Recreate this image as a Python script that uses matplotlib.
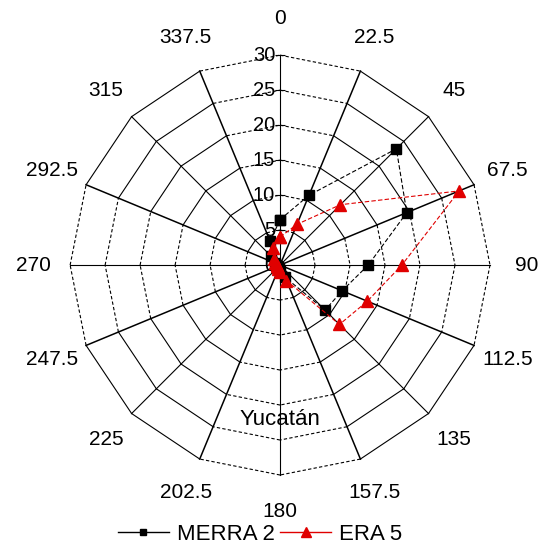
import numpy as np
import matplotlib.pyplot as plt
from matplotlib.lines import Line2D

plt.rcParams['font.family'] = ['Liberation Sans', 'DejaVu Sans']

# Wind direction sectors (degrees) and frequencies (%)
directions = [0, 22.5, 45, 67.5, 90, 112.5, 135, 157.5,
              180, 202.5, 225, 247.5, 270, 292.5, 315, 337.5]
merra2 = [6.5, 10.8, 23.5, 19.6, 12.6, 9.6, 9.1, 1.9,
          0.8, 0.5, 0.4, 0.5, 0.6, 0.8, 1.8, 3.7]
era5 = [4.0, 6.3, 12.2, 27.7, 17.4, 13.5, 12.0, 2.4,
        1.0, 0.6, 0.4, 0.4, 0.5, 0.8, 1.3, 2.6]
r_ticks = [0, 5, 10, 15, 20, 25, 30]
site = 'Yucatán'

theta = np.deg2rad(directions)
n = len(theta)

fig = plt.figure(figsize=(5.47, 5.46), dpi=100)
ax = fig.add_axes([0.128, 0.130, 0.768, 0.769], projection='polar')
ax.set_theta_zero_location('N')
ax.set_theta_direction(-1)
ax.set_ylim(0, r_ticks[-1])
ax.grid(False)
ax.spines['polar'].set_visible(False)
ax.set_xticks([])
ax.set_yticks([])

# polygonal rings: segments next to N/E/S/W are dashed
for r in r_ticks[1:]:
    for i in range(n):
        j = (i + 1) % n
        cardinal = directions[i] % 90 == 0 or directions[j] % 90 == 0
        ax.plot([theta[i], theta[j]], [r, r], color='k',
                lw=0.8, ls=(0, (3, 2)) if cardinal else '-',
                clip_on=False, zorder=1)

# spokes
for t, d in zip(theta, directions):
    ax.plot([t, t], [0, r_ticks[-1]], color='k',
            lw=1.1 if d % 45 else 0.8, clip_on=False, zorder=1)

# radial scale along the north spoke
for r in r_ticks:
    ax.plot([0], [r], marker='_', ms=7, color='k', mew=0.8,
            clip_on=False, zorder=2)
    ax.annotate(str(r), xy=(0, r), xytext=(-3.5, 0), textcoords='offset points',
                ha='right', va='center', fontsize=14.5, zorder=2)

# direction labels
for t, d in zip(theta, directions):
    ax.text(t, 35.2, f'{d:g}', ha='center', va='center', fontsize=15)

ax.text(np.pi, 22, site, ha='center', va='center', fontsize=16)

tc = np.append(theta, theta[0])
ax.plot(tc, merra2 + merra2[:1], color='k', lw=0.8, ls=(0, (4, 2)),
        marker='s', ms=6.5, clip_on=False, zorder=4)
ax.plot(tc, era5 + era5[:1], color='#e00000', lw=0.8, ls=(0, (4, 2)),
        marker='^', ms=8.5, clip_on=False, zorder=5)

handles = [Line2D([], [], color='k', lw=1, marker='s', ms=5),
           Line2D([], [], color='#e00000', lw=1, marker='^', ms=6.5)]
fig.legend(handles, ['MERRA 2', 'ERA 5'], loc='lower center',
           bbox_to_anchor=(0.475, -0.014), ncol=2, frameon=False, fontsize=16,
           handlelength=2.3, handletextpad=0.35, columnspacing=0.25,
           borderaxespad=0)

fig.savefig('out.png', dpi=100, facecolor='white')
